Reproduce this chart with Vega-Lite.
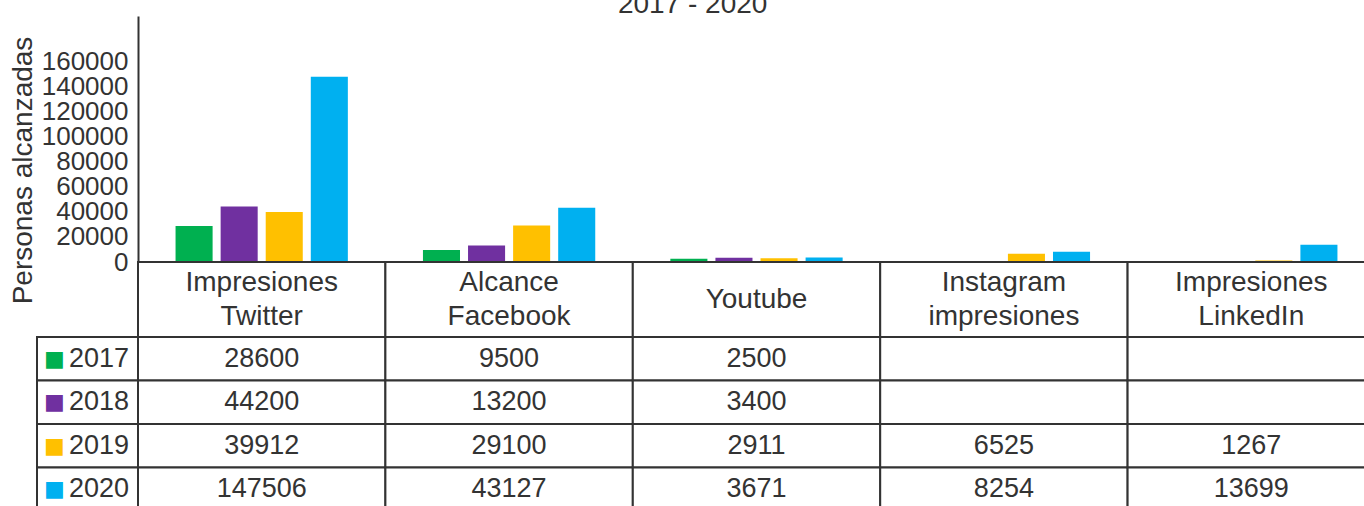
{
  "$schema": "https://vega.github.io/schema/vega-lite/v6.json",
  "autosize": {"type": "pad"},
  "padding": {"left": 9, "top": -9, "right": 0, "bottom": 0},
  "background": "white",
  "config": {
    "view": {"stroke": null},
    "font": "Liberation Sans",
    "text": {"color": "#333333", "fontSize": 27}
  },
  "title": {"text": "2017 - 2020", "fontSize": 28, "fontWeight": "normal", "color": "#333333", "offset": -3, "anchor": "middle"},
  "datasets": {
    "main": [
      {"category": "Impresiones Twitter", "year": "2017", "value": 28600},
      {"category": "Impresiones Twitter", "year": "2018", "value": 44200},
      {"category": "Impresiones Twitter", "year": "2019", "value": 39912},
      {"category": "Impresiones Twitter", "year": "2020", "value": 147506},
      {"category": "Alcance Facebook", "year": "2017", "value": 9500},
      {"category": "Alcance Facebook", "year": "2018", "value": 13200},
      {"category": "Alcance Facebook", "year": "2019", "value": 29100},
      {"category": "Alcance Facebook", "year": "2020", "value": 43127},
      {"category": "Youtube", "year": "2017", "value": 2500},
      {"category": "Youtube", "year": "2018", "value": 3400},
      {"category": "Youtube", "year": "2019", "value": 2911},
      {"category": "Youtube", "year": "2020", "value": 3671},
      {"category": "Instagram impresiones", "year": "2017", "value": null},
      {"category": "Instagram impresiones", "year": "2018", "value": null},
      {"category": "Instagram impresiones", "year": "2019", "value": 6525},
      {"category": "Instagram impresiones", "year": "2020", "value": 8254},
      {"category": "Impresiones LinkedIn", "year": "2017", "value": null},
      {"category": "Impresiones LinkedIn", "year": "2018", "value": null},
      {"category": "Impresiones LinkedIn", "year": "2019", "value": 1267},
      {"category": "Impresiones LinkedIn", "year": "2020", "value": 13699}
    ],
    "cats": [
      {"category": "Impresiones Twitter"},
      {"category": "Alcance Facebook"},
      {"category": "Youtube"},
      {"category": "Instagram impresiones"},
      {"category": "Impresiones LinkedIn"}
    ],
    "years": [
      {"year": "2017"},
      {"year": "2018"},
      {"year": "2019"},
      {"year": "2020"}
    ]
  },
  "columns": 2,
  "spacing": 0,
  "bounds": "flush",
  "concat": [
    {
      "width": 101, "height": 246,
      "data": {"values": [{}]},
      "mark": {"type": "rect", "opacity": 0},
      "encoding": {}
    },
    {
      "width": 1237, "height": 246,
      "data": {"name": "main"},
      "mark": {"type": "bar"},
      "encoding": {
        "x": {"field": "category", "type": "nominal",
              "sort": ["Impresiones Twitter", "Alcance Facebook", "Youtube", "Instagram impresiones", "Impresiones LinkedIn"],
              "scale": {"paddingInner": 0, "paddingOuter": 0}, "axis": null},
        "xOffset": {"field": "year", "type": "nominal", "scale": {"paddingInner": 0.178, "paddingOuter": 0.833}},
        "y": {"field": "value", "type": "quantitative",
              "scale": {"domain": [0, 196000], "nice": false},
              "axis": {
                "values": [0, 20000, 40000, 60000, 80000, 100000, 120000, 140000, 160000],
                "ticks": false, "grid": false,
                "labelFontSize": 26, "labelColor": "#333333", "labelPadding": 10,
                "labelFlush": false, "labelOverlap": false, "format": "d",
                "domainColor": "#333333", "domainWidth": 2,
                "title": "Personas alcanzadas", "titleFontSize": 28, "titleFontWeight": "normal",
                "titleColor": "#333333", "titlePadding": 4, "titleY": 154
              }},
        "color": {"field": "year", "type": "nominal",
                  "scale": {"domain": ["2017", "2018", "2019", "2020"], "range": ["#00B050", "#7030A0", "#FFC000", "#00B0F0"]},
                  "legend": null}
      }
    },
    {
      "width": 101, "height": 75,
      "data": {"values": [{}]},
      "mark": {"type": "rect", "opacity": 0},
      "encoding": {}
    },
    {
      "width": 1237, "height": 75,
      "data": {"name": "cats"},
      "layer": [
        {
          "mark": {"type": "rect", "fill": "white", "stroke": "#333333", "strokeWidth": 2},
          "encoding": {
            "x": {"field": "category", "type": "nominal",
                  "sort": ["Impresiones Twitter", "Alcance Facebook", "Youtube", "Instagram impresiones", "Impresiones LinkedIn"],
                  "scale": {"paddingInner": 0, "paddingOuter": 0}, "axis": null}
          }
        },
        {
          "mark": {"type": "text", "lineBreak": " ", "lineHeight": 34, "fontSize": 28, "baseline": "middle",
                   "dy": {"expr": "indexof(datum.category, ' ') >= 0 ? -17 : 0"}},
          "encoding": {
            "x": {"field": "category", "type": "nominal",
                  "sort": ["Impresiones Twitter", "Alcance Facebook", "Youtube", "Instagram impresiones", "Impresiones LinkedIn"],
                  "axis": null},
            "text": {"field": "category", "type": "nominal"}
          }
        }
      ]
    },
    {
      "width": 101, "height": 174,
      "data": {"name": "years"},
      "layer": [
        {
          "mark": {"type": "rect", "fill": "white", "stroke": "#333333", "strokeWidth": 2},
          "encoding": {
            "y": {"field": "year", "type": "nominal", "scale": {"paddingInner": 0, "paddingOuter": 0}, "axis": null}
          }
        },
        {
          "mark": {"type": "text", "text": "■", "font": "DejaVu Sans", "fontSize": 22, "dx": -33, "baseline": "middle"},
          "encoding": {
            "y": {"field": "year", "type": "nominal", "axis": null},
            "color": {"field": "year", "type": "nominal", "legend": null}
          }
        },
        {
          "mark": {"type": "text", "dx": 11.5, "baseline": "middle"},
          "encoding": {
            "y": {"field": "year", "type": "nominal", "axis": null},
            "text": {"field": "year", "type": "nominal"}
          }
        }
      ]
    },
    {
      "width": 1237, "height": 174,
      "data": {"name": "main"},
      "layer": [
        {
          "mark": {"type": "rect", "fill": "white", "stroke": "#333333", "strokeWidth": 2},
          "encoding": {
            "x": {"field": "category", "type": "nominal",
                  "sort": ["Impresiones Twitter", "Alcance Facebook", "Youtube", "Instagram impresiones", "Impresiones LinkedIn"],
                  "scale": {"paddingInner": 0, "paddingOuter": 0}, "axis": null},
            "y": {"field": "year", "type": "nominal", "scale": {"paddingInner": 0, "paddingOuter": 0}, "axis": null}
          }
        },
        {
          "transform": [{"filter": "isValid(datum.value)"}],
          "mark": {"type": "text", "baseline": "middle"},
          "encoding": {
            "x": {"field": "category", "type": "nominal",
                  "sort": ["Impresiones Twitter", "Alcance Facebook", "Youtube", "Instagram impresiones", "Impresiones LinkedIn"],
                  "axis": null},
            "y": {"field": "year", "type": "nominal", "axis": null},
            "text": {"field": "value", "type": "quantitative", "format": "d"}
          }
        }
      ]
    }
  ]
}
